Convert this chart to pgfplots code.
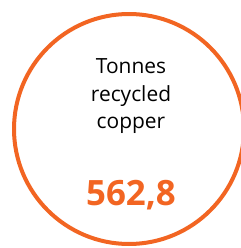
\documentclass[border=0pt]{standalone}
\usepackage{pgfplots}
\pgfplotsset{compat=1.18}
\usepackage{fontspec}
\setmainfont{Open Sans}
\definecolor{corange}{HTML}{F26522}
\begin{document}
\begin{tikzpicture}
\begin{axis}[at={(0,0)},anchor=south west,
  width=241bp,height=248bp,scale only axis,hide axis,
  xmin=0,xmax=241,ymin=0,ymax=248,y dir=reverse,clip=false]
\addplot[only marks,mark=o,mark size=115bp,mark options={draw=corange,line width=4bp,fill=none}] coordinates {(129,129)};
\node[anchor=base,font=\fontsize{21}{24}\selectfont,text=black] at (axis cs:131,73) {Tonnes};
\node[anchor=base,font=\fontsize{21}{24}\selectfont,text=black] at (axis cs:131,101) {recycled};
\node[anchor=base,font=\fontsize{21}{24}\selectfont,text=black] at (axis cs:131,128) {copper};
\node[anchor=base,font=\bfseries\fontsize{35}{40}\selectfont,text=corange] at (axis cs:131,205) {562,8};
\end{axis}
\pgfresetboundingbox
\path[use as bounding box] (0,0) rectangle (241bp,248bp);
\end{tikzpicture}
\end{document}
